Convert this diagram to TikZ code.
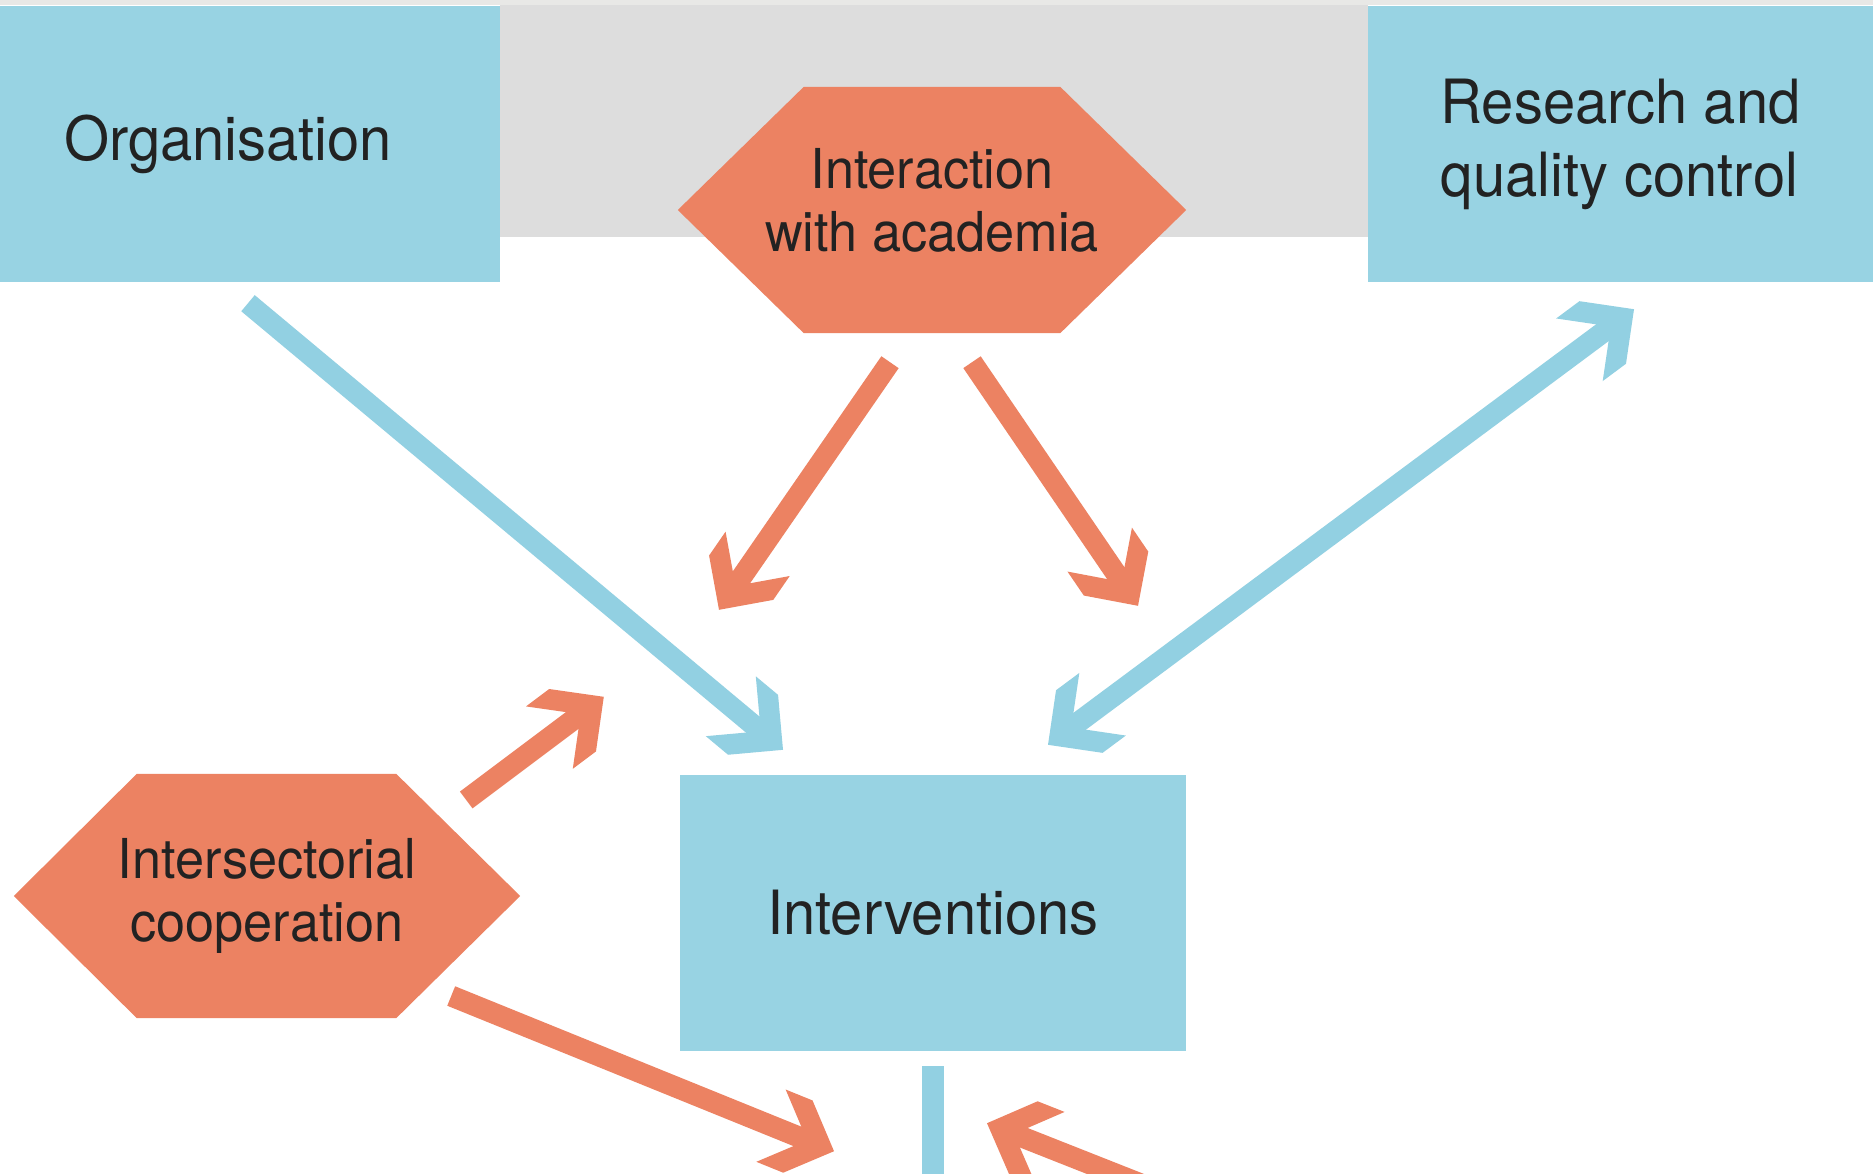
\documentclass[tikz,border=0pt]{standalone}
\usepackage{fontspec}
\setmainfont{TeX Gyre Heros}[FakeStretch=0.95]
\usetikzlibrary{backgrounds}
\definecolor{boxblue}{HTML}{98D3E3}
\definecolor{arrblue}{HTML}{92D0E2}
\definecolor{orangeC}{HTML}{EC8262}
\definecolor{bandgray}{HTML}{DDDDDD}
\definecolor{stripgray}{HTML}{E8E8E6}
\definecolor{txt}{HTML}{222222}

\pgfdeclarearrow{
  name=Chev,
  parameters={},
  setup code={
    \pgfarrowssettipend{0pt}
    \pgfarrowssetlineend{-34pt}
    \pgfarrowssetbackend{-68pt}
    \pgfarrowsupperhullpoint{0pt}{0pt}
    \pgfarrowsupperhullpoint{-39pt}{39pt}
    \pgfarrowsupperhullpoint{-68pt}{39pt}
  },
  drawing code={
    \pgfpathmoveto{\pgfpoint{0pt}{0pt}}
    \pgfpathlineto{\pgfpoint{-39pt}{39pt}}
    \pgfpathlineto{\pgfpoint{-68pt}{39pt}}
    \pgfpathlineto{\pgfpoint{-39.5pt}{10.5pt}}
    \pgfpathlineto{\pgfpoint{-39.5pt}{-10.5pt}}
    \pgfpathlineto{\pgfpoint{-68pt}{-39pt}}
    \pgfpathlineto{\pgfpoint{-39pt}{-39pt}}
    \pgfpathclose
    \pgfusepathqfill
  }
}

\begin{document}
\begin{tikzpicture}[x=1pt,y=-1pt,
  bluebox/.style={fill=boxblue, draw=none, inner sep=0pt, text=txt},
  bigtext/.style={font=\fontsize{61}{73}\selectfont},
  smalltext/.style={font=\fontsize{55}{63}\selectfont},
  hexnode/.style={inner sep=0pt, text=txt, align=center},
  barrow/.style={color=arrblue, line width=21pt, -Chev},
  oarrow/.style={color=orangeC, line width=21pt, -Chev},
]
\useasboundingbox (0,0) rectangle (1873,1173);
\clip (0,0) rectangle (1873,1173);

\begin{pgfonlayer}{background}
  \fill[white] (0,0) rectangle (1873,1173);
  \fill[bandgray] (500,0) rectangle (1368,237);
  \fill[stripgray] (0,0) rectangle (1873,5);
\end{pgfonlayer}

% boxes
\node[bluebox, minimum width=500pt, minimum height=276pt,
      label={[bigtext, text=txt, xshift=-22pt]center:Organisation}] (org) at (250,144) {};
\node[bluebox, minimum width=505pt, minimum height=276pt,
      label={[bigtext, text=txt, align=left, xshift=0pt]center:Research and\\quality control}] (res) at (1620.5,144) {};
\node[bluebox, bigtext, minimum width=506pt, minimum height=276pt] (inter) at (933,913) {Interventions};

% hexagons
\node[hexnode, smalltext, minimum width=508pt, minimum height=246pt] (acad) at (932,210)
  {Interaction\\with academia\rule[-20pt]{0pt}{0pt}};
\node[hexnode, smalltext, minimum width=506pt, minimum height=244pt] (isc) at (267,896)
  {Intersectorial\\cooperation};

\begin{pgfonlayer}{background}
  \fill[orangeC] (acad.west) -- ([xshift=126pt]acad.north west) -- ([xshift=-126pt]acad.north east)
     -- (acad.east) -- ([xshift=-126pt]acad.south east) -- ([xshift=126pt]acad.south west) -- cycle;
  \fill[orangeC] (isc.west) -- ([xshift=123pt]isc.north west) -- ([xshift=-124pt]isc.north east)
     -- (isc.east) -- ([xshift=-124pt]isc.south east) -- ([xshift=123pt]isc.south west) -- cycle;
\end{pgfonlayer}

% connectors
\draw[barrow] ([shift={(-2,21)}]org.south) -- ([shift={(-150,-25)}]inter.north);
\draw[oarrow] ([shift={(-42,29)}]acad.south) -- ([shift={(-214,-165)}]inter.north);
\draw[oarrow] ([shift={(40,29)}]acad.south) -- ([shift={(205,-169)}]inter.north);
\draw[barrow, Chev-Chev] ([shift={(115,-30)}]inter.north) -- ([shift={(13.5,27)}]res.south);
\draw[oarrow] ([shift={(-54,-96)}]isc.east) -- ([shift={(-76,-78)}]inter.north west);
\draw[oarrow] ([shift={(-69,100)}]isc.east) -- ([shift={(-99,100)}]inter.south);
\draw[oarrow] ([shift={(426,219)}]inter.south) -- ([shift={(54,72)}]inter.south);
\draw[arrblue, line width=22pt] ([yshift=-15pt]inter.south) -- ++(0,160);
\end{tikzpicture}
\end{document}
